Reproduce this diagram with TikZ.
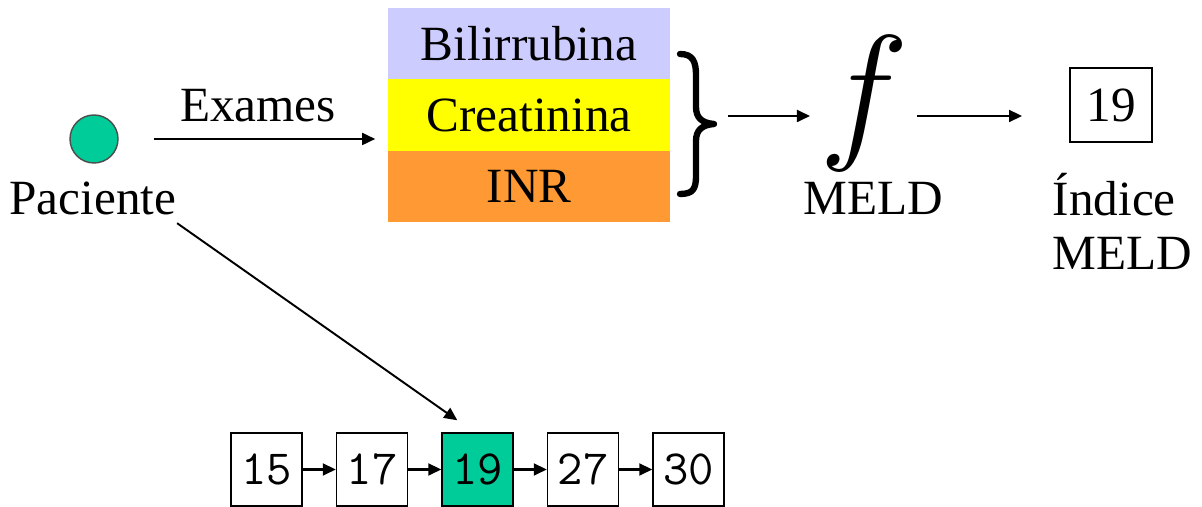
\documentclass[tikz,border=0pt]{standalone}
\usepackage{fontspec}
\setmainfont{Liberation Serif}
\usetikzlibrary{arrows.meta}
\definecolor{meldgreen}{HTML}{00CC99}
\definecolor{bilicol}{HTML}{CCCCFF}
\definecolor{creacol}{HTML}{FFFF00}
\definecolor{inrcol}{HTML}{FF9933}
\begin{document}
\begin{tikzpicture}[x=0.01cm, y=-0.01cm,
    arr/.style={-{Triangle[length=3.7pt,width=3.4pt]}, line width=0.55pt},
    lbl/.style={inner sep=0pt, font=\fontsize{14}{15.6}\selectfont},
    exam/.style={minimum width=2.82cm, minimum height=0.715cm, inner sep=0pt,
                 font=\fontsize{14}{15.6}\selectfont},
    cell/.style={draw, line width=0.4pt, minimum width=0.71cm, minimum height=0.73cm,
                 inner sep=0pt, font=\fontsize{14}{14}\ttfamily}]
  \useasboundingbox (0,0) rectangle (1202,507);
  % paciente
  \node[circle, draw=black!70, fill=meldgreen, minimum size=0.48cm, inner sep=0pt] (dot) at (94,139) {};
  \node[lbl, anchor=base] (pac) at (93,215) {Paciente};
  \node[lbl, anchor=base] (exl) at (258,122) {Exames};
  % exames
  \node[exam, fill=bilicol] (bil) at (529,44) {Bilirrubina};
  \node[exam, fill=creacol] (cre) at (529,115) {Creatinina};
  \node[exam, fill=inrcol] (inr) at (529,186.5) {INR};
  \draw[arr, shorten <=0.35cm, shorten >=0.12cm] (dot) -- (dot -| cre.west);
  % chave
  \draw[line width=1.8pt, line cap=round, line join=round]
    (680,54) .. controls (693,54) and (696,62) .. (696,75)
    -- (696,107) .. controls (696,118) and (702,123) .. (714,124)
    .. controls (702,125) and (696,130) .. (696,141)
    -- (696,176) .. controls (696,189) and (693,194) .. (680,194);
  % funcao
  \node[inner sep=0pt, scale=3, font=\fontsize{14}{14}\selectfont] (fn) at (864,104) {$f$};
  \node[lbl, anchor=base] (fl) at (873,215) {MELD};
  \coordinate (fin) at (728,116);
  \coordinate (fout) at (917,116);
  \draw[arr] (fin) -- (fin -| 810,0);
  \node[draw, line width=0.5pt, minimum width=0.82cm, minimum height=0.74cm, inner sep=0pt,
        font=\fontsize{14}{14}\selectfont] (v19) at (1111,105) {19};
  \draw[arr, shorten >=0.47cm] (fout) -- (fout -| v19.west);
  \node[lbl, anchor=base west, align=left] (idx) at (1052,270) {Índice\\MELD};
  % lista
  \foreach \v/\c [count=\i] in {15/white,17/white,19/meldgreen,27/white,30/white}
    \node[cell, fill=\c] (b\i) at (161+105.5*\i,469.5) {\v};
  \foreach \i [count=\j from 2] in {1,...,4}
    \draw[arr, line width=0.6pt] (b\i) -- (b\j);
  \draw[arr] ([yshift=-0.07cm]pac.south east) -- ([xshift=0.16cm,yshift=0.12cm]b3.north west);
\end{tikzpicture}
\end{document}
